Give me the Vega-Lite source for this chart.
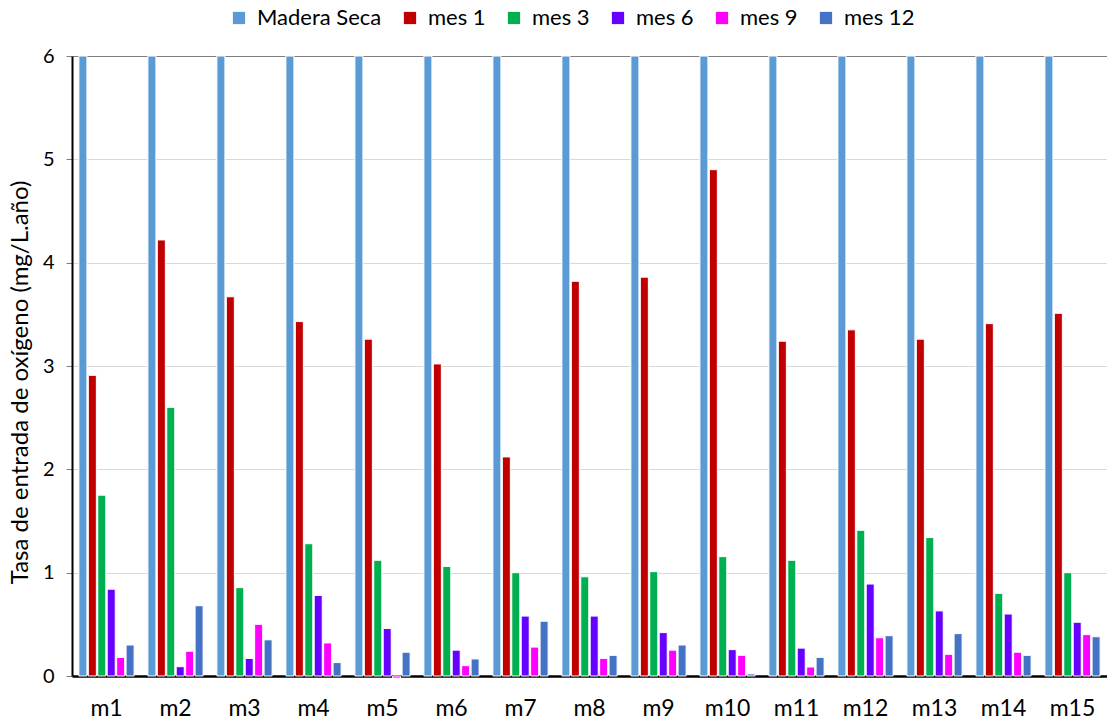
{
  "$schema": "https://vega.github.io/schema/vega-lite/v6.json",
  "width": 1035,
  "height": 620,
  "autosize": {"type": "none"},
  "padding": {"left": 72, "top": 56, "right": 0, "bottom": 44},
  "background": "white",
  "data": {"values": [
    {"m": "m1", "s": "Madera Seca", "v": 6}, {"m": "m1", "s": "mes 1", "v": 2.91}, {"m": "m1", "s": "mes 3", "v": 1.75}, {"m": "m1", "s": "mes 6", "v": 0.84}, {"m": "m1", "s": "mes 9", "v": 0.18}, {"m": "m1", "s": "mes 12", "v": 0.30},
    {"m": "m2", "s": "Madera Seca", "v": 6}, {"m": "m2", "s": "mes 1", "v": 4.22}, {"m": "m2", "s": "mes 3", "v": 2.60}, {"m": "m2", "s": "mes 6", "v": 0.09}, {"m": "m2", "s": "mes 9", "v": 0.24}, {"m": "m2", "s": "mes 12", "v": 0.68},
    {"m": "m3", "s": "Madera Seca", "v": 6}, {"m": "m3", "s": "mes 1", "v": 3.67}, {"m": "m3", "s": "mes 3", "v": 0.855}, {"m": "m3", "s": "mes 6", "v": 0.17}, {"m": "m3", "s": "mes 9", "v": 0.50}, {"m": "m3", "s": "mes 12", "v": 0.35},
    {"m": "m4", "s": "Madera Seca", "v": 6}, {"m": "m4", "s": "mes 1", "v": 3.43}, {"m": "m4", "s": "mes 3", "v": 1.28}, {"m": "m4", "s": "mes 6", "v": 0.78}, {"m": "m4", "s": "mes 9", "v": 0.32}, {"m": "m4", "s": "mes 12", "v": 0.13},
    {"m": "m5", "s": "Madera Seca", "v": 6}, {"m": "m5", "s": "mes 1", "v": 3.26}, {"m": "m5", "s": "mes 3", "v": 1.12}, {"m": "m5", "s": "mes 6", "v": 0.46}, {"m": "m5", "s": "mes 9", "v": -0.02}, {"m": "m5", "s": "mes 12", "v": 0.23},
    {"m": "m6", "s": "Madera Seca", "v": 6}, {"m": "m6", "s": "mes 1", "v": 3.02}, {"m": "m6", "s": "mes 3", "v": 1.06}, {"m": "m6", "s": "mes 6", "v": 0.25}, {"m": "m6", "s": "mes 9", "v": 0.10}, {"m": "m6", "s": "mes 12", "v": 0.165},
    {"m": "m7", "s": "Madera Seca", "v": 6}, {"m": "m7", "s": "mes 1", "v": 2.12}, {"m": "m7", "s": "mes 3", "v": 1.00}, {"m": "m7", "s": "mes 6", "v": 0.58}, {"m": "m7", "s": "mes 9", "v": 0.28}, {"m": "m7", "s": "mes 12", "v": 0.53},
    {"m": "m8", "s": "Madera Seca", "v": 6}, {"m": "m8", "s": "mes 1", "v": 3.82}, {"m": "m8", "s": "mes 3", "v": 0.96}, {"m": "m8", "s": "mes 6", "v": 0.58}, {"m": "m8", "s": "mes 9", "v": 0.17}, {"m": "m8", "s": "mes 12", "v": 0.20},
    {"m": "m9", "s": "Madera Seca", "v": 6}, {"m": "m9", "s": "mes 1", "v": 3.86}, {"m": "m9", "s": "mes 3", "v": 1.01}, {"m": "m9", "s": "mes 6", "v": 0.42}, {"m": "m9", "s": "mes 9", "v": 0.25}, {"m": "m9", "s": "mes 12", "v": 0.30},
    {"m": "m10", "s": "Madera Seca", "v": 6}, {"m": "m10", "s": "mes 1", "v": 4.90}, {"m": "m10", "s": "mes 3", "v": 1.155}, {"m": "m10", "s": "mes 6", "v": 0.255}, {"m": "m10", "s": "mes 9", "v": 0.20}, {"m": "m10", "s": "mes 12", "v": 0.02},
    {"m": "m11", "s": "Madera Seca", "v": 6}, {"m": "m11", "s": "mes 1", "v": 3.24}, {"m": "m11", "s": "mes 3", "v": 1.12}, {"m": "m11", "s": "mes 6", "v": 0.27}, {"m": "m11", "s": "mes 9", "v": 0.087}, {"m": "m11", "s": "mes 12", "v": 0.18},
    {"m": "m12", "s": "Madera Seca", "v": 6}, {"m": "m12", "s": "mes 1", "v": 3.35}, {"m": "m12", "s": "mes 3", "v": 1.41}, {"m": "m12", "s": "mes 6", "v": 0.89}, {"m": "m12", "s": "mes 9", "v": 0.37}, {"m": "m12", "s": "mes 12", "v": 0.39},
    {"m": "m13", "s": "Madera Seca", "v": 6}, {"m": "m13", "s": "mes 1", "v": 3.26}, {"m": "m13", "s": "mes 3", "v": 1.34}, {"m": "m13", "s": "mes 6", "v": 0.63}, {"m": "m13", "s": "mes 9", "v": 0.21}, {"m": "m13", "s": "mes 12", "v": 0.41},
    {"m": "m14", "s": "Madera Seca", "v": 6}, {"m": "m14", "s": "mes 1", "v": 3.41}, {"m": "m14", "s": "mes 3", "v": 0.80}, {"m": "m14", "s": "mes 6", "v": 0.60}, {"m": "m14", "s": "mes 9", "v": 0.23}, {"m": "m14", "s": "mes 12", "v": 0.20},
    {"m": "m15", "s": "Madera Seca", "v": 6}, {"m": "m15", "s": "mes 1", "v": 3.51}, {"m": "m15", "s": "mes 3", "v": 1.00}, {"m": "m15", "s": "mes 6", "v": 0.52}, {"m": "m15", "s": "mes 9", "v": 0.40}, {"m": "m15", "s": "mes 12", "v": 0.38}
  ]},
  "mark": {"type": "bar", "stroke": "white", "strokeWidth": 1},
  "encoding": {
    "x": {
      "field": "m", "type": "nominal",
      "sort": ["m1","m2","m3","m4","m5","m6","m7","m8","m9","m10","m11","m12","m13","m14","m15"],
      "scale": {"paddingInner": 0.2, "paddingOuter": 0.1},
      "axis": {"title": null, "labelAngle": 0, "labelFont": "Lato", "labelFontSize": 23, "labelColor": "#000000", "ticks": false, "domainColor": "#000000", "domainWidth": 2.5, "labelPadding": 32, "labelBaseline": "middle"}
    },
    "xOffset": {
      "field": "s", "type": "nominal",
      "sort": ["Madera Seca","mes 1","mes 3","mes 6","mes 9","mes 12"],
      "scale": {"paddingInner": 0.15, "paddingOuter": 0}
    },
    "y": {
      "field": "v", "type": "quantitative",
      "scale": {"domain": [0, 6], "nice": false},
      "axis": {
        "title": "Tasa de entrada de oxígeno (mg/L.año)",
        "titleFont": "Lato", "titleFontSize": 24, "titleFontWeight": "normal", "titleColor": "#000000", "titlePadding": 10, "titleY": 326,
        "labelFont": "Lato", "labelFontSize": 20, "labelColor": "#000000", "labelPadding": 12,
        "values": [0,1,2,3,4,5,6], "tickSize": 6, "tickColor": "#7f7f7f",
        "domainColor": "#000000", "domainWidth": 2,
        "grid": true, "gridWidth": 1,
        "gridColor": {"condition": {"test": "datum.value === 6", "value": "#7f7f7f"}, "value": "#d9d9d9"}
      }
    },
    "color": {
      "field": "s", "type": "nominal",
      "sort": ["Madera Seca","mes 1","mes 3","mes 6","mes 9","mes 12"],
      "scale": {"domain": ["Madera Seca","mes 1","mes 3","mes 6","mes 9","mes 12"], "range": ["#5B9BD5","#C00000","#00B050","#6600FF","#FF00FF","#4472C4"]},
      "legend": {
        "title": null, "orient": "none", "direction": "horizontal", "legendX": 156, "legendY": -49,
        "symbolType": "square", "symbolSize": 150, "symbolStrokeWidth": 0,
        "labelFont": "Lato", "labelFontSize": 22, "labelColor": "#000000", "labelOffset": 7,
        "columnPadding": 17
      }
    }
  },
  "config": {"view": {"stroke": null}}
}
